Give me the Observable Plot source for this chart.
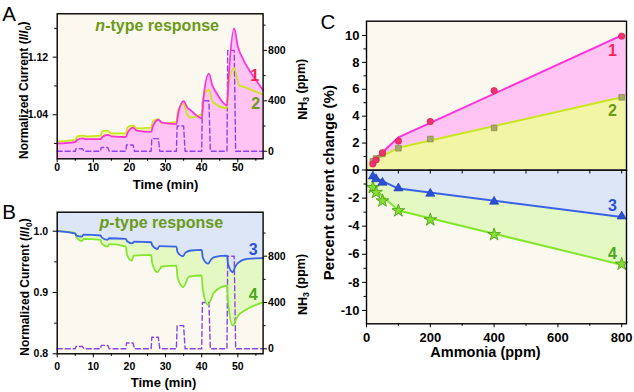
<!DOCTYPE html>
<html><head><meta charset="utf-8">
<script src="https://cdn.jsdelivr.net/npm/d3@7"></script>
<script src="https://cdn.jsdelivr.net/npm/@observablehq/plot@0.6"></script>
<style>
body{margin:0;background:#fff;}
#wrap{position:relative;width:634px;height:392px;overflow:hidden;background:#fff;}
#wrap svg{position:absolute;left:0;top:0;}
</style></head><body><div id="wrap"></div>
<script>
// ---------- Panel A (n-type), time in min, normalized current ----------
const timeA1 = [0,5,5.5,7,8,12,12.5,14,15,19,19.5,21,22,26,26.5,28,29,33,33.5,35,36,37,40,40.5,42,43,44,47,47.5,49,50,51.7,54.5,57];
const currA1 = [1.000,1.002,1.005,1.007,1.006,1.006,1.009,1.012,1.010,1.009,1.015,1.022,1.018,1.016,1.024,1.033,1.029,1.027,1.042,1.059,1.050,1.046,1.035,1.063,1.097,1.080,1.071,1.053,1.095,1.160,1.135,1.115,1.092,1.074];
const timeA2 = [0,5,5.5,7,8,12,12.5,14,15,19,19.5,21,22,26,26.5,28,29,33,33.5,35,36,37,40,40.5,42,43,47,47.5,49,50.3,52,54.5,57];
const currA2 = [1.003,1.005,1.010,1.011,1.010,1.011,1.017,1.018,1.014,1.014,1.023,1.025,1.021,1.022,1.031,1.034,1.028,1.030,1.047,1.055,1.040,1.036,1.041,1.065,1.075,1.058,1.049,1.085,1.105,1.081,1.078,1.073,1.068];
// ---------- Panel B (p-type) ----------
const timeB3 = [0,5,5.3,6.8,7.3,12,12.3,13.9,14.4,19,19.3,20.8,21.3,26,26.3,27.7,28.3,33,33.3,34.8,35.5,37,40,40.3,41.8,42.5,43.5,47,47.3,48.6,49.2,50,52.6,57];
const currB3 = [1.000,0.996,0.993,0.991,0.9945,0.993,0.990,0.986,0.9885,0.9876,0.984,0.980,0.983,0.982,0.977,0.971,0.9755,0.975,0.966,0.959,0.965,0.9685,0.9696,0.957,0.947,0.953,0.9576,0.960,0.946,0.933,0.941,0.948,0.955,0.956];
const timeB4 = [0,5,5.3,6.8,7.4,12,12.3,13.9,14.5,19,19.3,20.6,21.2,26,26.3,27.7,29,33,33.3,34.9,36.5,40,40.3,41.7,43.4,47,47.3,48.6,49.9,52.6,57];
const currB4 = [1.000,0.997,0.990,0.984,0.9876,0.986,0.980,0.975,0.979,0.975,0.962,0.952,0.960,0.9615,0.948,0.933,0.9424,0.944,0.925,0.909,0.926,0.9277,0.905,0.880,0.900,0.911,0.885,0.846,0.861,0.873,0.884];
// ---------- NH3 exposure pulses (ppm) ----------
const nh3Time = [0,5,5.2,7,7.4,12,12.2,14,14.4,19,19.2,21,21.4,26,26.2,28,28.4,33,33.2,35,35.4,40,40.2,42,42.4,47,47.2,49,49.4,57];
const nh3Ppm  = [0,0,20,20,0,0,30,30,0,0,50,50,0,0,100,100,0,0,200,200,0,0,400,400,0,0,800,800,0,0];
// ---------- Panel C ----------
const ammonia = [20,30,50,100,200,400,800];
const change1 = [0.45,0.75,1.28,2.15,3.6,5.9,9.95];
const change2 = [0.65,0.85,1.2,1.62,2.3,3.13,5.4];
const change3 = [-0.45,-0.65,-0.9,-1.3,-1.68,-2.25,-3.3];
const change4 = [-1.25,-1.6,-2.2,-2.9,-3.55,-4.6,-6.7];
const fitAmmonia = [15,100,800];
const fit1 = [0.55,2.42,10.0];
const fit2 = [0.6,1.65,5.4];
const fit3 = [-0.42,-1.32,-3.35];
const fit4 = [-1.15,-2.88,-6.75];
const fillEdges = [0,815];
// ---------- tick values ----------
const timeTicks = [0,10,20,30,40,50];
const timeMinor = [5,15,25,35,45,55];
const ppmTicks = [0,400,800];
const ppmMinor = [200,600,1000];
const aTicks = [1.04,1.12];
const aMinor = [1.00,1.08,1.16];
const bTicks = [0.8,0.9,1.0];
const bMinor = [0.85,0.95];
const cTopTicks = [0,2,4,6,8,10];
const cTopMinor = [1,3,5,7,9];
const cBotTicks = [-2,-4,-6,-8,-10];
const cBotMinor = [-1,-3,-5,-7,-9];
const ammTicks = [0,200,400,600,800];
const ammMinor = [100,300,500,700];
const ammAll = [0,100,200,300,400,500,600,700,800];

// ---------- helpers ----------
const W = 634, H = 392;
const FONT = "'Liberation Sans', Arial, Helvetica, sans-serif";
const zip = (xs, ys) => xs.map((x, i) => ({x, y: ys[i]}));
const withEdges = (xs, ys) => zip([fillEdges[0], ...xs, fillEdges[1]], [ys[0], ...ys, ys[ys.length - 1]]);
const wrap = document.getElementById("wrap");
function layer(o) {
  const {fs = 10.5, ...rest} = o;
  const svg = Plot.plot({
    width: W, height: H,
    style: {background: "transparent", fontFamily: FONT, fontWeight: "bold", fontSize: fs + "px", color: "#000", overflow: "visible"},
    ...rest
  });
  wrap.appendChild(svg);
  return svg;
}
const CREAM = "#fbf8ef", PINKF = "#ffc4f4", YELF = "#f3f5a6", BLUEF = "#dde6f6", GREENF = "#e4f8c4";
const MAG = "#ff33d8", YEL = "#c8e620", BLUE = "#3a62e6", GRN = "#84e62c", DASH = "#8a44ee";
const RED = "#ff1d5e", OLIVE = "#6a9a18", LBLUE = "#2a52e0", LGRN = "#4aa820";
const noAxis = () => "";

const dA1 = zip(timeA1, currA1), dA2 = zip(timeA2, currA2);
const dB3 = zip(timeB3, currB3), dB4 = zip(timeB4, currB4);
const dNH3 = zip(nh3Time, nh3Ppm);

// ---------- Panel A ----------
const frameA = {marginLeft: 56.7, marginRight: W - 262.6, marginTop: 13.3, marginBottom: H - 158.3};
const xA = {domain: [0, 57], label: null};
const yDomA = [0.9787, 1.1803];
layer({...frameA, x: {...xA, axis: null}, y: {domain: yDomA, axis: null}, marks: [
  Plot.frame({fill: CREAM, stroke: "none"}),
  Plot.areaY(dA2, {x: "x", y1: yDomA[0], y2: "y", fill: YELF, curve: "monotone-x"}),
  Plot.areaY(dA1, {x: "x", y1: yDomA[0], y2: "y", fill: PINKF, curve: "monotone-x"})
]});
layer({...frameA, x: {...xA, axis: null}, y: {domain: [-60, 1090], label: null}, marks: [
  Plot.line(dNH3, {x: "x", y: "y", stroke: DASH, strokeWidth: 1.4, strokeDasharray: "5,3"}),
  Plot.axisY(ppmTicks, {anchor: "right", tickSize: 3.5, tickPadding: 1.5, tickFormat: d => d}),
  Plot.axisY(ppmMinor, {anchor: "right", tickSize: 2, tickFormat: noAxis})
]});
layer({...frameA, x: xA, y: {domain: yDomA, label: null}, marks: [
  Plot.line(dA2, {x: "x", y: "y", stroke: YEL, strokeWidth: 1.8, curve: "monotone-x"}),
  Plot.line(dA1, {x: "x", y: "y", stroke: MAG, strokeWidth: 1.8, curve: "monotone-x"}),
  Plot.frame({stroke: "#000", strokeWidth: 1.4}),
  Plot.axisX(timeTicks, {tickSize: 4, tickPadding: 0.5, tickFormat: d => d}),
  Plot.axisX(timeMinor, {tickSize: 2.5, tickFormat: noAxis}),
  Plot.axisY(aTicks, {tickSize: 4, tickFormat: d3.format(".2f")}),
  Plot.axisY(aMinor, {tickSize: 2.5, tickFormat: noAxis}),
  Plot.text(["n-type response"], {text: d => d, frameAnchor: "top", dx: -3, dy: 17.4, lineAnchor: "bottom", fontSize: 16, fill: OLIVE}),
  Plot.text(["1"], {text: d => d, x: 57, y: 1.0875, dx: -4, textAnchor: "end", lineAnchor: "bottom", fontSize: 16, fill: RED}),
  Plot.text(["2"], {text: d => d, x: 57, y: 1.048, dx: -3, textAnchor: "end", lineAnchor: "bottom", fontSize: 16, fill: OLIVE}),
  Plot.text(["Normalized Current (I/I0)"], {text: d => d, frameAnchor: "left", textAnchor: "middle", rotate: -90, dx: -33, dy: 4, fontSize: 12}),
  Plot.text(["NH3 (ppm)"], {text: d => d, frameAnchor: "right", textAnchor: "middle", rotate: -90, dx: 39.5, dy: 3, fontSize: 12.5}),
  Plot.text(["Time (min)"], {text: d => d, frameAnchor: "bottom", dx: 5.4, dy: 30, lineAnchor: "bottom", fontSize: 13}),
  Plot.text(["A"], {text: d => d, frameAnchor: "top-left", dx: -55, dy: 6.7, lineAnchor: "bottom", textAnchor: "start", fontSize: 20.5, fontWeight: "normal"})
]});

// ---------- Panel B ----------
const frameB = {marginLeft: 56.7, marginRight: W - 262.6, marginTop: 211.7, marginBottom: H - 353.3};
const yDomB = [0.8, 1.031];
layer({...frameB, x: {...xA, axis: null}, y: {domain: yDomB, axis: null}, marks: [
  Plot.frame({fill: CREAM, stroke: "none"}),
  Plot.areaY(dB4, {x: "x", y1: yDomB[1], y2: "y", fill: GREENF, curve: "monotone-x"}),
  Plot.areaY(dB3, {x: "x", y1: yDomB[1], y2: "y", fill: BLUEF, curve: "monotone-x"})
]});
layer({...frameB, x: {...xA, axis: null}, y: {domain: [-43, 1180], label: null}, marks: [
  Plot.line(dNH3, {x: "x", y: "y", stroke: DASH, strokeWidth: 1.4, strokeDasharray: "5,3"}),
  Plot.axisY(ppmTicks, {anchor: "right", tickSize: 3.5, tickPadding: 1.5, tickFormat: d => d}),
  Plot.axisY(ppmMinor, {anchor: "right", tickSize: 2, tickFormat: noAxis})
]});
layer({...frameB, x: xA, y: {domain: yDomB, label: null}, marks: [
  Plot.line(dB4, {x: "x", y: "y", stroke: GRN, strokeWidth: 1.8, curve: "monotone-x"}),
  Plot.line(dB3, {x: "x", y: "y", stroke: BLUE, strokeWidth: 1.8, curve: "monotone-x"}),
  Plot.frame({stroke: "#000", strokeWidth: 1.4}),
  Plot.axisX(timeTicks, {tickSize: 4, tickPadding: 4.4, tickFormat: d => d}),
  Plot.axisX(timeMinor, {tickSize: 2.5, tickFormat: noAxis}),
  Plot.axisY(bTicks, {tickSize: 4, tickFormat: d3.format(".1f")}),
  Plot.axisY(bMinor, {tickSize: 2.5, tickFormat: noAxis}),
  Plot.text(["p-type response"], {text: d => d, frameAnchor: "top", dx: 1.2, dy: 15.6, lineAnchor: "bottom", fontSize: 16, fill: OLIVE}),
  Plot.text(["3"], {text: d => d, x: 57, y: 0.9604, dx: -5.5, textAnchor: "end", lineAnchor: "bottom", fontSize: 16, fill: LBLUE}),
  Plot.text(["4"], {text: d => d, x: 57, y: 0.887, dx: -5.5, textAnchor: "end", lineAnchor: "bottom", fontSize: 16, fill: LGRN}),
  Plot.text(["Normalized Current (I/I0)"], {text: d => d, frameAnchor: "left", textAnchor: "middle", rotate: -90, dx: -32, dy: 4, fontSize: 12}),
  Plot.text(["NH3 (ppm)"], {text: d => d, frameAnchor: "right", textAnchor: "middle", rotate: -90, dx: 39.5, dy: 1.5, fontSize: 12.5}),
  Plot.text(["Time (min)"], {text: d => d, frameAnchor: "bottom", dx: 3.4, dy: 32.7, lineAnchor: "bottom", fontSize: 13}),
  Plot.text(["B"], {text: d => d, frameAnchor: "top-left", dx: -55, dy: 6.6, lineAnchor: "bottom", textAnchor: "start", fontSize: 20.5, fontWeight: "normal"})
]});

// ---------- Panel C (bottom half: p-type) ----------
const xC = {domain: [0, 815], label: null};
const frameCb = {marginLeft: 366, marginRight: W - 626, marginTop: 169.5, marginBottom: H - 323.3};
layer({...frameCb, fs: 13, x: xC, y: {domain: [-10.95, 0], label: null}, marks: [
  Plot.frame({fill: CREAM, stroke: "none"}),
  Plot.areaY(withEdges(fitAmmonia, fit4), {x: "x", y1: 0, y2: "y", fill: GREENF}),
  Plot.areaY(withEdges(fitAmmonia, fit3), {x: "x", y1: 0, y2: "y", fill: BLUEF}),
  Plot.line(zip(fitAmmonia, fit4), {x: "x", y: "y", stroke: GRN, strokeWidth: 2}),
  Plot.line(zip(fitAmmonia, fit3), {x: "x", y: "y", stroke: BLUE, strokeWidth: 2}),
  Plot.dot(zip(ammonia, change4), {x: "x", y: "y", symbol: "star", r: 4, fill: "#86dc30", stroke: "#3f9a10", strokeWidth: 0.8}),
  Plot.dot(zip(ammonia, change3), {x: "x", y: "y", symbol: "triangle", r: 3.4, fill: "#2a50d8", stroke: "#1a3aa8", strokeWidth: 0.6}),
  Plot.frame({stroke: "#000", strokeWidth: 1.4}),
  Plot.axisX(ammTicks, {tickSize: 4, tickPadding: 4.5, tickFormat: d => d}),
  Plot.axisX(ammMinor, {tickSize: 2.5, tickFormat: noAxis}),
  Plot.axisY(cBotTicks, {tickSize: 4, tickPadding: 3, tickFormat: d => String(d)}),
  Plot.axisY(cBotMinor, {tickSize: 2.5, tickFormat: noAxis}),
  Plot.text(["3"], {text: d => d, x: 771, y: -2.95, lineAnchor: "bottom", fontSize: 16, fill: LBLUE}),
  Plot.text(["4"], {text: d => d, x: 771, y: -6.35, lineAnchor: "bottom", fontSize: 16, fill: LGRN}),
  Plot.text(["Ammonia (ppm)"], {text: d => d, frameAnchor: "bottom", dx: -11, dy: 33.4, lineAnchor: "bottom", fontSize: 14.5})
]});

// ---------- Panel C (top half: n-type) ----------
const frameCt = {marginLeft: 366, marginRight: W - 626, marginTop: 20.7, marginBottom: H - 169.5};
layer({...frameCt, fs: 13, x: xC, y: {domain: [0, 11.06], label: null}, marks: [
  Plot.frame({fill: CREAM, stroke: "none"}),
  Plot.areaY(withEdges(fitAmmonia, fit1), {x: "x", y1: 0, y2: "y", fill: PINKF}),
  Plot.areaY(withEdges(fitAmmonia, fit2), {x: "x", y1: 0, y2: "y", fill: YELF}),
  Plot.line(zip(fitAmmonia, fit2), {x: "x", y: "y", stroke: YEL, strokeWidth: 2}),
  Plot.line(zip(fitAmmonia, fit1), {x: "x", y: "y", stroke: MAG, strokeWidth: 2}),
  Plot.dot(zip(ammonia, change2), {x: "x", y: "y", symbol: "square", r: 3.2, fill: "#a8a86c", stroke: "#86863e", strokeWidth: 0.7}),
  Plot.dot(zip(ammonia, change1), {x: "x", y: "y", symbol: "circle", r: 3.2, fill: "#f2326e", stroke: "#d01850", strokeWidth: 0.6}),
  Plot.frame({stroke: "#000", strokeWidth: 1.4}),
  Plot.axisX(ammAll, {tickSize: 4, tickFormat: noAxis}),
  Plot.axisY(cTopTicks, {tickSize: 4, tickPadding: 3, tickFormat: d => String(d)}),
  Plot.axisY(cTopMinor, {tickSize: 2.5, tickFormat: noAxis}),
  Plot.text(["1"], {text: d => d, x: 771, y: 8.51, lineAnchor: "bottom", fontSize: 16, fill: RED}),
  Plot.text(["2"], {text: d => d, x: 771, y: 4.05, lineAnchor: "bottom", fontSize: 16, fill: OLIVE}),
  Plot.text(["Percent current change (%)"], {text: d => d, frameAnchor: "left", textAnchor: "middle", rotate: -90, dx: -37, dy: 87, fontSize: 15}),
  Plot.text(["C"], {text: d => d, frameAnchor: "top-left", dx: -46, dy: 7.6, lineAnchor: "bottom", textAnchor: "start", fontSize: 20.5, fontWeight: "normal"})
]});

// ---------- rich text: italics and subscripts ----------
wrap.querySelectorAll("text").forEach(t => {
  const s = t.textContent;
  if (s === "Normalized Current (I/I0)") {
    t.innerHTML = 'Normalized Current (<tspan font-style="italic">I</tspan>/<tspan font-style="italic">I</tspan><tspan font-size="0.7em" dy="0.3em">0</tspan><tspan dy="-0.3em">)</tspan>';
  } else if (s === "NH3 (ppm)") {
    t.innerHTML = 'NH<tspan font-size="0.7em" dy="0.3em">3</tspan><tspan dy="-0.3em"> (ppm)</tspan>';
  } else if (s === "n-type response") {
    t.innerHTML = '<tspan font-style="italic">n</tspan>-type response';
  } else if (s === "p-type response") {
    t.innerHTML = '<tspan font-style="italic">p</tspan>-type response';
  }
});
</script>
</body></html>
